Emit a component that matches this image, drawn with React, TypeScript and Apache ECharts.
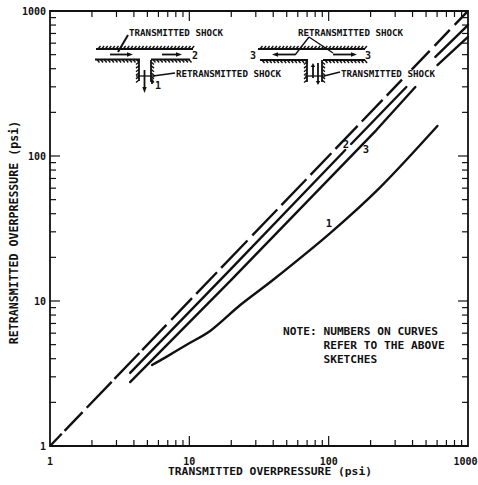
import React, { useEffect, useRef } from "react";
import * as echarts from "echarts";

const tickLabels = [1, 10, 100, 1000];
const minorTicks = [2, 3, 4, 5, 6, 7, 8, 9, 20, 30, 40, 50, 60, 70, 80, 90, 200, 300, 400, 500, 600, 700, 800, 900];
const majorTicks = [10, 100];
const diagonal = [[1, 1], [1000, 1000]];
const curve1 = [[5.4, 3.62], [6.7, 4.07], [9.64, 5.01], [14.1, 6.21], [23.2, 9.38], [40, 14], [102.6, 29.4], [235, 61], [603, 161]];
const curve2Parts = [
  [[3.76, 3.19], [19.6, 16.4], [131.6, 110]],
  [[145, 121], [361, 299]],
  [[583, 482], [1000, 800]],
];
const curve3Parts = [
  [[3.76, 2.76], [19.6, 13.7], [220, 151], [419, 299]],
  [[603, 424], [1000, 662]],
];
const xTitle = "TRANSMITTED OVERPRESSURE (psi)";
const yTitle = "RETRANSMITTED OVERPRESSURE (psi)";
const noteLines = ["NOTE: NUMBERS ON CURVES", "      REFER TO THE ABOVE", "      SKETCHES"];

const INK = "#111";
const MONO = "'DejaVu Sans Mono', monospace";
const diagonalDash = [17, 4, 26, 6, 36, 4, 36, 4, 35, 7, 30, 6, 30, 6, 38, 7, 36, 6, 36, 6, 30, 6, 32, 6, 30, 6, 22, 14, 26, 7, 22, 7, 19, 10];

function line(x1: number, y1: number, x2: number, y2: number, w = 1.5) {
  return { type: "line", shape: { x1, y1, x2, y2 }, style: { stroke: INK, lineWidth: w }, silent: true };
}
function hatchH(a: number, b: number, y: number, dy: number) {
  const out: any[] = [line(a, y, b, y, 2.2)];
  for (let x = a + 2; x < b; x += 3.6) out.push(line(x, y, x + 2.5, y + dy, 1.4));
  return out;
}
function hatchV(x: number, a: number, b: number, dx: number) {
  const out: any[] = [line(x, a, x, b, 1.8)];
  for (let y = a + 2; y < b; y += 3.6) out.push(line(x, y, x + dx, y + 2.5, 1.4));
  return out;
}
function arrow(x1: number, y1: number, x2: number, y2: number, head = 6) {
  const a = Math.atan2(y2 - y1, x2 - x1);
  const bx = x2 - Math.cos(a) * head;
  const by = y2 - Math.sin(a) * head;
  const nx = -Math.sin(a) * 2.2;
  const ny = Math.cos(a) * 2.2;
  return [
    line(x1, y1, bx, by, 1.8),
    { type: "polygon", shape: { points: [[x2, y2], [bx + nx, by + ny], [bx - nx, by - ny]] }, style: { fill: INK }, silent: true },
  ];
}
function label(text: string, x: number, y: number, size = 9.2, align = "left") {
  return {
    type: "text",
    x,
    y,
    silent: true,
    style: { text, fill: INK, font: `bold ${size}px ${MONO}`, textAlign: align, textVerticalAlign: "middle" },
  };
}

function sketches() {
  return [
    ...hatchH(96, 193, 49, -3),
    ...hatchH(95, 140, 59.5, 3),
    ...hatchH(151, 190, 59.5, 3),
    ...hatchV(139, 60, 81, -3),
    ...hatchV(151, 60, 81, 3),
    line(136, 76, 155, 76, 1.3),
    ...arrow(110, 54.5, 133, 54.5),
    ...arrow(162, 54.5, 182, 54.5),
    ...arrow(144.5, 70, 144.5, 93),
    ...arrow(152, 84, 152, 78, 4),
    line(128, 35, 118, 52, 2),
    line(175, 73, 153, 76, 1.4),
    label("TRANSMITTED SHOCK", 129, 32),
    label("RETRANSMITTED SHOCK", 176, 73),
    label("2", 192, 55, 10),
    label("1", 155, 85, 10),

    ...hatchH(258, 365, 49, -3),
    ...hatchH(260, 308, 60, 3),
    ...hatchH(323, 365, 60, 3),
    ...hatchV(307, 60, 82, -3),
    ...hatchV(322, 60, 82, 3),
    line(305, 76, 325, 76, 1.3),
    ...arrow(295, 54.5, 272, 54.5),
    ...arrow(333, 54.5, 357, 54.5),
    ...arrow(313, 78, 313, 63, 4),
    ...arrow(318, 63, 318, 85, 4),
    line(309, 37, 295, 55, 1.3),
    line(309, 37, 333, 53, 1.3),
    line(340, 72, 324, 76, 1.4),
    label("RETRANSMITTED SHOCK", 298, 32),
    label("TRANSMITTED SHOCK", 341, 73),
    label("3", 250, 55, 10),
    label("3", 365, 55, 10),

    label("1", 329, 223, 10.5, "center"),
    label("2", 346, 144, 10.5, "center"),
    label("3", 366, 149, 10.5, "center"),
    ...noteLines.map((t, i) => label(t, 283, 331 + i * 14.2, 11.2)),
  ];
}

function renderTicks(_: any, api: any) {
  const v = api.value(0);
  const len = api.value(1);
  const [x0, y0] = api.coord([v, 1]);
  const [x1, y1] = api.coord([v, 1000]);
  const [lx, ly] = api.coord([1, v]);
  const [rx] = api.coord([1000, v]);
  const mk = (a: number, b: number, c: number, d: number) => ({
    type: "line",
    shape: { x1: a, y1: b, x2: c, y2: d },
    style: { stroke: INK, lineWidth: 1.2 },
  });
  return {
    type: "group",
    children: [
      mk(x0, y0, x0, y0 - len),
      mk(x1, y1, x1, y1 + len),
      mk(lx, ly, lx + len, ly),
      mk(rx, ly, rx - len, ly),
    ],
  };
}

function lineSeries(data: number[][], extra: any = {}) {
  return {
    type: "line",
    data,
    showSymbol: false,
    symbol: "none",
    silent: true,
    lineStyle: { color: INK, width: 2.4, cap: "round", ...(extra.lineStyle || {}) },
    smooth: extra.smooth,
  };
}

const labelFont = { color: INK, fontFamily: MONO, fontWeight: "bold", fontSize: 10 };

function logAxis(name: string, size: number, padding: number[], extra: any) {
  return {
    type: "log",
    logBase: 10,
    min: tickLabels[0],
    max: tickLabels[tickLabels.length - 1],
    name,
    nameLocation: "middle",
    nameMoveOverlap: false,
    nameTextStyle: { color: INK, fontFamily: MONO, fontWeight: "bold", fontSize: size, padding },
    axisLine: { show: false },
    axisTick: { show: false },
    splitLine: { show: false },
    minorTick: { show: false },
    ...extra,
  };
}

export default function App() {
  const ref = useRef<HTMLDivElement>(null);
  useEffect(() => {
    const chart = echarts.init(ref.current!, null, { renderer: "svg" });
    chart.setOption({
      animation: false,
      backgroundColor: "#fff",
      grid: { left: 50, right: 10, top: 11, bottom: 39, outerBoundsMode: "none", containLabel: false, show: true, borderColor: INK, borderWidth: 1.8, backgroundColor: "transparent" },
      xAxis: logAxis(xTitle, 11.3, [0, 0, 0, 22], {
        nameGap: 20,
        axisLabel: {
          ...labelFont,
          margin: 10,
          showMinLabel: true,
          showMaxLabel: true,
          formatter: (v: number) => (Math.round(v) === 1000 ? `{end|${Math.round(v)}}` : String(Math.round(v))),
          rich: { end: { ...labelFont, padding: [0, 5, 0, 0] } },
        },
      }),
      yAxis: logAxis(yTitle, 11.6, [0, 8, 0, 0], {
        nameGap: 30,
        axisLabel: {
          ...labelFont,
          margin: 4,
          showMinLabel: true,
          showMaxLabel: true,
          formatter: (v: number) => String(Math.round(v)),
        },
      }),
      series: [
        {
          type: "custom",
          silent: true,
          clip: false,
          coordinateSystem: "cartesian2d",
          encode: { x: 0 },
          renderItem: renderTicks,
          data: [...minorTicks.map((v) => [v, 6]), ...majorTicks.map((v) => [v, 10])],
        },
        lineSeries(diagonal, { lineStyle: { type: diagonalDash, cap: "butt" } }),
        lineSeries(curve1, { smooth: 0.3 }),
        ...curve2Parts.map((p) => lineSeries(p)),
        ...curve3Parts.map((p) => lineSeries(p)),
      ],
      graphic: { elements: sketches() },
    });
    return () => chart.dispose();
  }, []);
  return <div ref={ref} style={{ position: "absolute", left: 0, top: 0, width: 478, height: 485 }} />;
}
